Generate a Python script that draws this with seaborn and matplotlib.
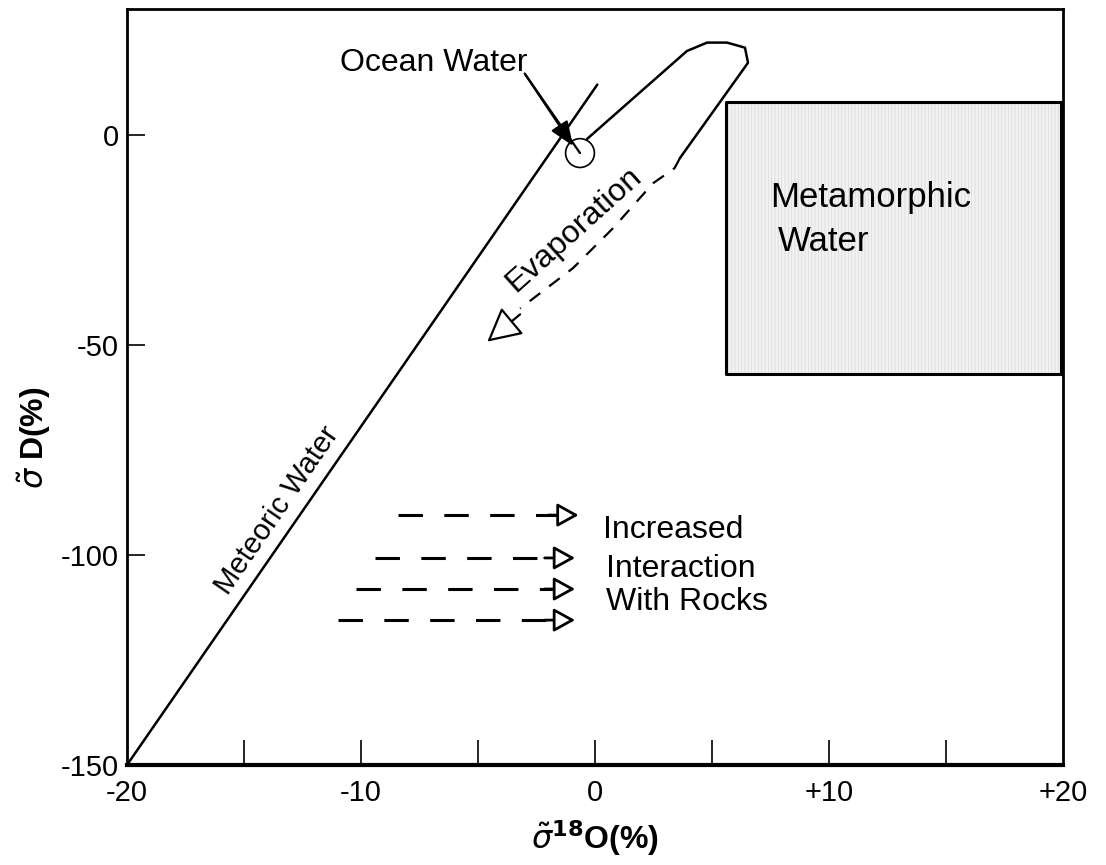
import matplotlib
matplotlib.use("Agg")
import matplotlib.pyplot as plt
import seaborn as sns
import pandas as pd

# Meteoric water line (end points)
meteoric_x = [-20.0, 0.1]
meteoric_y = [-150.0, 12.0]

# Ocean water point
ocean_x = [-0.64]
ocean_y = [-4.3]

# Ocean Water label leader line
leader_x = [-3.0, -0.64]
leader_y = [14.6, -4.3]
leader_head = (-0.94, -2.6)

# Evaporation loop (solid part)
loop_x = [-0.34, 3.93, 4.79, 5.64, 6.41, 6.54, 3.63]
loop_y = [-0.95, 20.0, 22.0, 22.0, 20.8, 17.2, -5.5]

# Evaporation trend (dashed part)
evap_x = [3.63, 3.4, 2.48, 0.77, -0.94, -3.2]
evap_y = [-5.5, -7.9, -11.5, -22.2, -31.7, -41.3]
evap_tip = (-4.6, -49.2)

# Metamorphic water field
meta_x = [5.6, 19.9]
meta_y = [-57.0, 7.9]

# Rock interaction arrows
rock_start_x = [-8.4, -9.4, -10.2, -11.0]
rock_tip_x = [-0.7, -0.85, -0.85, -0.85]
rock_y = [-90.5, -100.7, -108.1, -115.5]

x_ticks = [-20, -10, 0, 10, 20]
x_tick_labels = ["-20", "-10", "0", "+10", "+20"]
x_minor = [-15, -5, 5, 15]
y_ticks = [0, -50, -100, -150]
y_tick_labels = ["0", "-50", "-100", "-150"]

sns.set_style("white", {"text.color": "black", "axes.labelcolor": "black",
                        "xtick.color": "black", "ytick.color": "black"})
plt.rcParams["font.family"] = ["Liberation Sans", "DejaVu Sans"]
plt.rcParams["mathtext.fontset"] = "dejavusans"

fig = plt.figure(figsize=(11.06, 8.65), dpi=100)
ax = fig.add_axes([0.1148, 0.1156, 0.8463, 0.874])

# metamorphic box: light striped fill + black outline
plt.rcParams["hatch.color"] = "#dcdcdc"
plt.rcParams["hatch.linewidth"] = 0.6
ax.fill_between(meta_x, meta_y[0], meta_y[1], facecolor="#f2f2f2",
                edgecolor="#dcdcdc", hatch="|||||", linewidth=0, zorder=1)
ax.fill_between(meta_x, meta_y[0], meta_y[1], facecolor="none",
                edgecolor="black", linewidth=2.2, zorder=2)

sns.lineplot(x=meteoric_x, y=meteoric_y, color="black", linewidth=1.8, ax=ax)
sns.lineplot(x=leader_x, y=leader_y, color="black", linewidth=1.6, ax=ax)
ax.annotate("", xy=leader_head, xytext=(leader_x[0], leader_y[0]),
            arrowprops=dict(arrowstyle="-|>,head_length=0.75,head_width=0.3",
                            color="black", lw=1.6, mutation_scale=20,
                            shrinkA=0, shrinkB=0))

loop_df = pd.DataFrame({"x": loop_x, "y": loop_y})
sns.lineplot(data=loop_df, x="x", y="y", sort=False, color="black",
             linewidth=1.8, ax=ax)

evap_df = pd.DataFrame({"x": evap_x, "y": evap_y})
sns.lineplot(data=evap_df, x="x", y="y", sort=False, color="black",
             linewidth=1.6, linestyle=(0, (6, 5)), ax=ax)
ax.annotate("", xy=evap_tip, xytext=(evap_x[-1], evap_y[-1] - 1.4),
            arrowprops=dict(arrowstyle="-|>,head_length=1.05,head_width=0.55",
                            fc="white", ec="black", lw=1.6, mutation_scale=20,
                            shrinkA=0, shrinkB=0))

sns.scatterplot(x=ocean_x, y=ocean_y, s=430, facecolor="none",
                edgecolor="black", linewidth=1.2, zorder=5, ax=ax)

# increased interaction with rocks arrows
for x0, x1, y in zip(rock_start_x, rock_tip_x, rock_y):
    sns.lineplot(x=[x0, x1 - 0.9], y=[y, y], color="black", linewidth=2.2,
                 linestyle=(0, (8, 7)), ax=ax)
    ax.annotate("", xy=(x1, y), xytext=(x1 - 1.3, y),
                arrowprops=dict(arrowstyle="-|>,head_length=0.65,head_width=0.36",
                                fc="white", ec="black", lw=2, mutation_scale=20,
                                shrinkA=0, shrinkB=0))

text_kw = dict(fontsize=23, color="black")
ax.text(-10.9, 17.2, "Ocean Water", ha="left", va="center", **text_kw)
ax.text(-0.9, -22.6, "Evaporation", ha="center", va="center",
        rotation=42, fontsize=23)
ax.text(7.5, -14.8, "Metamorphic", ha="left", va="center", fontsize=25)
ax.text(7.8, -25.3, "Water", ha="left", va="center", fontsize=25)
ax.text(-13.6, -89.4, "Meteoric Water", ha="center", va="center",
        rotation=55.5, fontsize=21)
ax.text(0.35, -94.0, "Increased", ha="left", va="center", **text_kw)
ax.text(0.45, -103.3, "Interaction", ha="left", va="center", **text_kw)
ax.text(0.45, -111.2, "With Rocks", ha="left", va="center", **text_kw)

ax.set_xlim(-20, 20)
ax.set_ylim(-150, 30)
ax.set_xticks(x_ticks)
ax.set_xticklabels(x_tick_labels)
ax.set_xticks(x_minor, minor=True)
ax.set_yticks(y_ticks)
ax.set_yticklabels(y_tick_labels)
ax.tick_params(axis="x", which="both", direction="in", length=18, width=1.2,
               labelsize=21, pad=10, bottom=True, top=False)
ax.tick_params(axis="y", direction="in", length=13, width=1.2,
               labelsize=21, pad=6, left=True, right=False)
ax.yaxis.get_major_ticks()[-1].tick1line.set_visible(False)
ax.xaxis.get_major_ticks()[0].tick1line.set_visible(False)
ax.xaxis.get_major_ticks()[-1].tick1line.set_visible(False)

for side in ["left", "top", "right"]:
    ax.spines[side].set_linewidth(2)
    ax.spines[side].set_color("black")
ax.spines["bottom"].set_linewidth(3)
ax.spines["bottom"].set_color("black")

ax.set_xlabel(r"$\boldsymbol{\tilde{\sigma}}^{\mathbf{18}}$O(%)", fontsize=23,
              fontweight="bold", labelpad=8)
ax.set_ylabel(r"$\boldsymbol{\tilde{\sigma}}$ D(%)", fontsize=23,
              fontweight="bold")
ax.yaxis.set_label_coords(-0.079, 0.433)

fig.savefig("out.png", dpi=100)
